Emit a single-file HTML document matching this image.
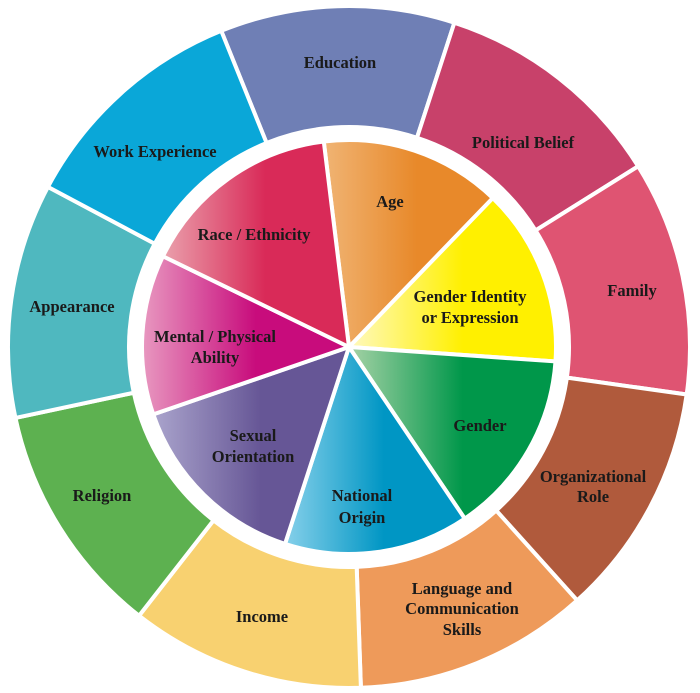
<!DOCTYPE html>
<html><head><meta charset="utf-8"><style>
html,body{margin:0;padding:0;background:#fff;width:700px;height:693px;overflow:hidden}
svg{display:block}
text{font-family:"Liberation Serif",serif;font-weight:bold;font-size:16.5px;fill:#1a1a1a;text-anchor:middle}
</style></head><body>
<svg id="s" width="700" height="693" viewBox="0 0 700 693" xmlns="http://www.w3.org/2000/svg">
<defs id="d"></defs>
<g id="g"></g>
<g id="t">
<text x="340" y="68">Education</text>
<text x="523" y="148">Political Belief</text>
<text x="632" y="296">Family</text>
<text x="593" y="482">Organizational</text><text x="593" y="502">Role</text>
<text x="462" y="594">Language and</text><text x="462" y="614">Communication</text><text x="462" y="635">Skills</text>
<text x="262" y="622">Income</text>
<text x="102" y="501">Religion</text>
<text x="72" y="312">Appearance</text>
<text x="155" y="157">Work Experience</text>
<text x="390" y="207">Age</text>
<text x="470" y="302">Gender Identity</text><text x="470" y="323">or Expression</text>
<text x="480" y="431">Gender</text>
<text x="362" y="501">National</text><text x="362" y="523">Origin</text>
<text x="253" y="441">Sexual</text><text x="253" y="462">Orientation</text>
<text x="215" y="342">Mental / Physical</text><text x="215" y="363">Ability</text>
<text x="254" y="240">Race / Ethnicity</text>
</g>
</svg>
<script>
var NS="http://www.w3.org/2000/svg",g=document.getElementById('g'),d=document.getElementById('d');
var cx=349,cy=347;
function pt(r,a){a=a*Math.PI/180;return [cx+r*Math.sin(a),cy-r*Math.cos(a)];}
function ring(r1,r2,a1,a2){var p1=pt(r2,a1),p2=pt(r2,a2),p3=pt(r1,a2),p4=pt(r1,a1);
return "M"+p1+" A"+r2+" "+r2+" 0 0 1 "+p2+" L"+p3+" A"+r1+" "+r1+" 0 0 0 "+p4+"Z";}
function wedge(r,a1,a2){var p1=pt(r,a1),p2=pt(r,a2);var l=(a2-a1)>180?1:0;
return "M"+cx+" "+cy+" L"+p1+" A"+r+" "+r+" 0 "+l+" 1 "+p2+"Z";}
function add(dd,fill){var p=document.createElementNS(NS,'path');p.setAttribute('d',dd);p.setAttribute('fill',fill);
p.setAttribute('stroke','#fff');p.setAttribute('stroke-width','4');p.setAttribute('stroke-linejoin','miter');g.appendChild(p);}
var outer=["#6f7fb5","#c8416a","#df5472","#b05a3c","#ee9a5a","#f8d170","#5db150","#4fb8bf","#0aa7d8"];
for(var i=0;i<9;i++){add(ring(220,341,338+40*i,378+40*i),outer[i]);}
var b=[-7,44,94,146,198,251,296,353];
var inner=[["#f0b474","#e8892a"],["#fff9c0","#fff000"],["#a6d2a6","#00974a"],["#86d0ea","#0096c4"],["#aaa4cc","#665696"],["#e898c0","#c80c7c"],["#eaa0ac","#d92a58"]];
for(var i=0;i<7;i++){
var lg=document.createElementNS(NS,'linearGradient');lg.id='gr'+i;
lg.innerHTML='<stop offset="0" stop-color="'+inner[i][0]+'"/><stop offset="0.55" stop-color="'+inner[i][1]+'"/><stop offset="1" stop-color="'+inner[i][1]+'"/>';
d.appendChild(lg);
add(wedge(207,b[i],b[i+1]),'url(#gr'+i+')');}
</script>
</body></html>
